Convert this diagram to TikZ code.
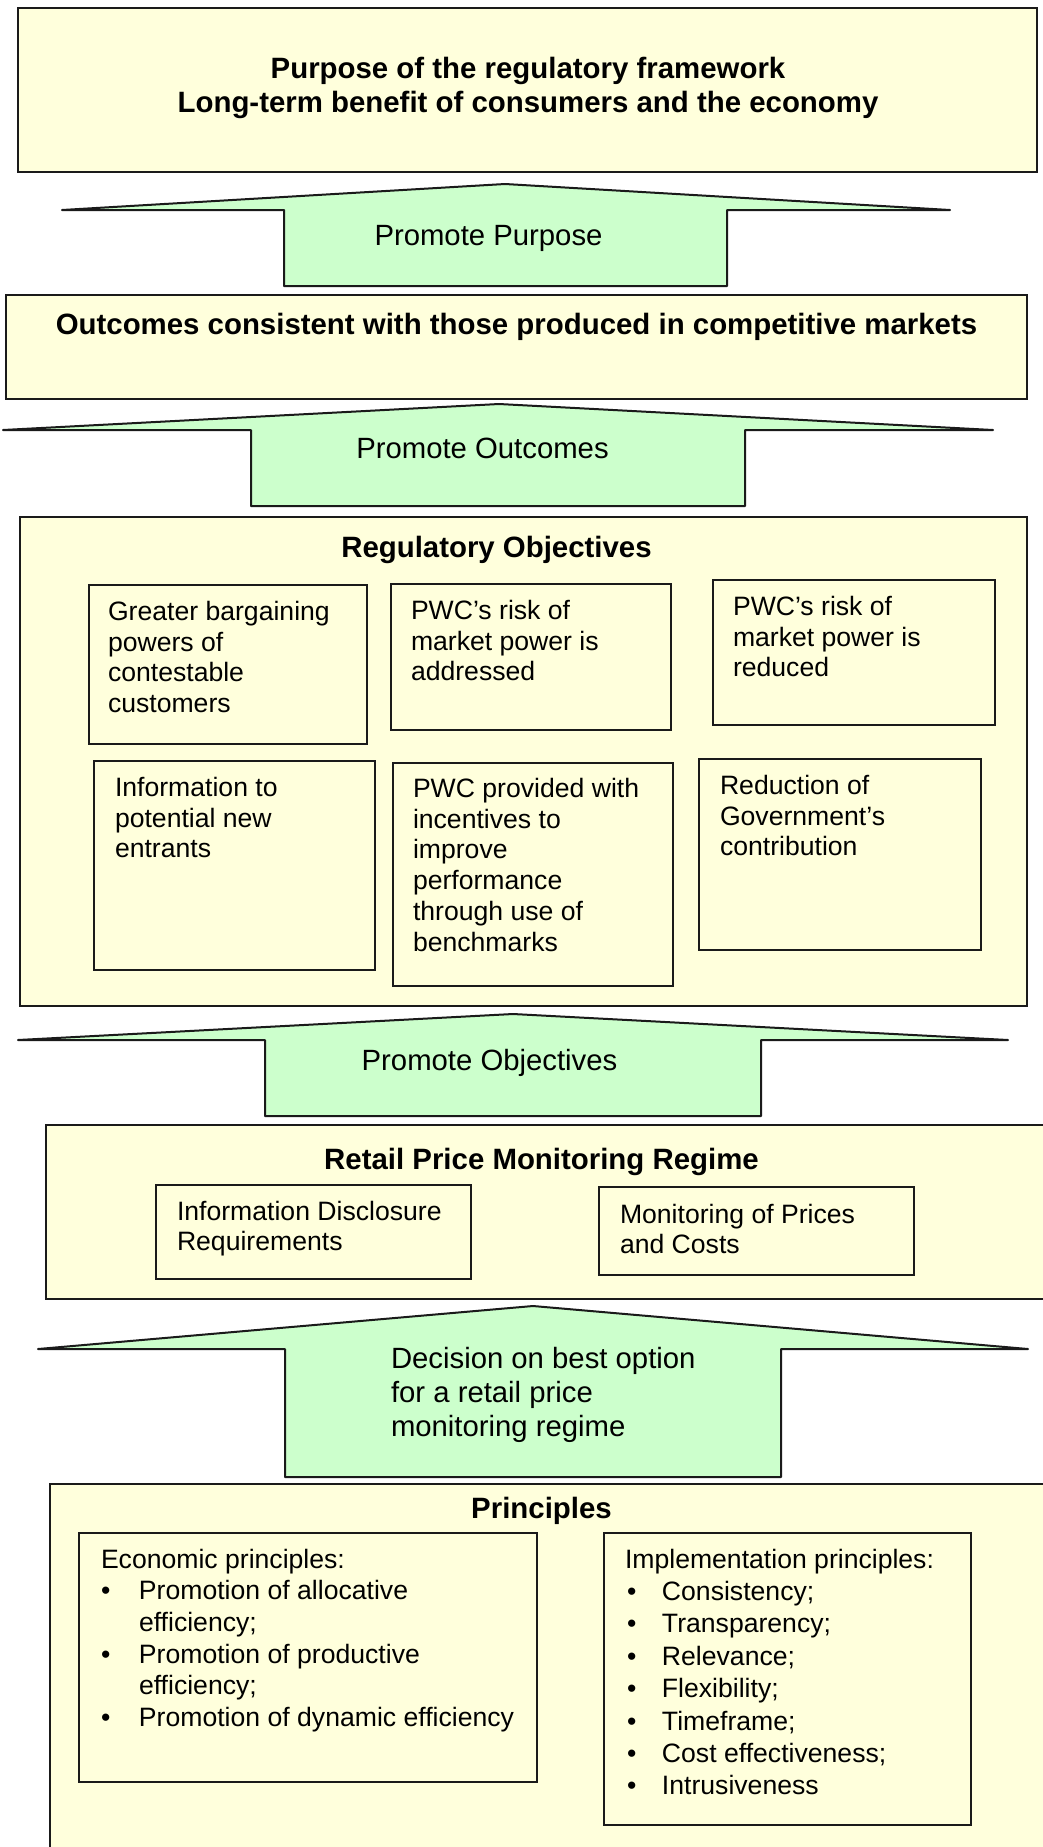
\documentclass[tikz,border=0pt]{standalone}
\usepackage{fontspec}
\setmainfont{Liberation Sans}
\definecolor{yel}{HTML}{FFFFDC}
\definecolor{grn}{HTML}{CCFFCC}
\definecolor{edge}{HTML}{1A1A1A}
\newcommand\bodyfont{\fontsize{26.6}{30.7}\selectfont}
\newcommand\titlefont{\fontsize{29.4}{34}\selectfont\bfseries}
\newcommand\arrowfont{\fontsize{29.3}{34}\selectfont}
\newcommand\llines[1]{\begin{tabular}[t]{@{}l@{}}#1\end{tabular}}
\newcommand\clines[1]{\begin{tabular}[t]{@{}c@{}}#1\end{tabular}}
\newcommand\bul[1]{\makebox[#1][l]{\textbullet}}
\tikzset{
  panel/.style={draw=edge, line width=2pt, fill=yel, anchor=north west, inner sep=0pt, outer sep=0pt},
  subbox/.style={draw=edge, line width=1.8pt, fill=yel, anchor=north west, inner sep=0pt, outer sep=0pt},
  bigarrow/.style={draw=edge, line width=2pt, fill=grn, line join=round},
  txt/.style={inner sep=0pt, outer sep=0pt, font=\bodyfont, anchor=base west},
  ttl/.style={inner sep=0pt, outer sep=0pt, font=\titlefont, anchor=base},
  atxt/.style={inner sep=0pt, outer sep=0pt, font=\arrowfont},
}
\begin{document}
\begin{tikzpicture}[x=1pt, y=-1pt]
\useasboundingbox (0,0) rectangle (1043,1847);
\clip (0,0) rectangle (1043,1847);
\fill[white] (0,0) rectangle (1043,1847);

% Purpose
\node[panel, minimum width=1019pt, minimum height=164pt] (purpose) at (18,8) {};
\node[ttl] (purposet) at (528,78.5) {\clines{Purpose of the regulatory framework\\Long-term benefit of consumers and the economy}};

% Arrow 1
\draw[bigarrow] (505,184) -- (950,210) -- (727,210) -- (727,286) -- (284,286) -- (284,210) -- (62,210) -- cycle;
\node[atxt, anchor=base] (a1) at (488.5,245.5) {Promote Purpose};

% Outcomes
\node[panel, minimum width=1021pt, minimum height=104pt] (outcomes) at (6,295) {};
\node[ttl] (outcomest) at (516.5,334.5) {Outcomes consistent with those produced in competitive markets};

% Arrow 2
\draw[bigarrow] (499,404) -- (993,430) -- (745,430) -- (745,506) -- (251,506) -- (251,430) -- (3,430) -- cycle;
\node[atxt, anchor=base] (a2) at (482.5,458.5) {Promote Outcomes};

% Regulatory objectives
\node[panel, minimum width=1007pt, minimum height=489pt] (objectives) at (20,517) {};
\node[ttl] (objectivest) at (496.5,557.5) {Regulatory Objectives};

\node[subbox, minimum width=278pt, minimum height=159pt] (oA) at (89,585) {};
\node[subbox, minimum width=280pt, minimum height=146pt] (oB) at (391,584) {};
\node[subbox, minimum width=282pt, minimum height=145pt] (oC) at (713,580) {};
\node[subbox, minimum width=281pt, minimum height=209pt] (oD) at (94,761) {};
\node[subbox, minimum width=280pt, minimum height=223pt] (oE) at (393,763) {};
\node[subbox, minimum width=282pt, minimum height=191pt] (oF) at (699,759) {};

\node[txt] (tA) at (108,620.5) {\llines{Greater bargaining\\powers of\\contestable\\customers}};
\node[txt] (tB) at (411,619.5) {\llines{PWC’s risk of\\market power is\\addressed}};
\node[txt] (tC) at (733,615.5) {\llines{PWC’s risk of\\market power is\\reduced}};
\node[txt] (tD) at (115,796.5) {\llines{Information to\\potential new\\entrants}};
\node[txt] (tE) at (413,797.5) {\llines{PWC provided with\\incentives to\\improve\\performance\\through use of\\benchmarks}};
\node[txt] (tF) at (720,794.5) {\llines{Reduction of\\Government’s\\contribution}};

% Arrow 3
\draw[bigarrow] (513,1014) -- (1008,1040) -- (761,1040) -- (761,1116) -- (265,1116) -- (265,1040) -- (18,1040) -- cycle;
\node[atxt, anchor=base] (a3) at (489.5,1070.5) {Promote Objectives};

% Retail price monitoring regime
\node[panel, minimum width=1010pt, minimum height=174pt] (regime) at (46,1125) {};
\node[ttl] (regimet) at (541.5,1169.5) {Retail Price Monitoring Regime};
\node[subbox, minimum width=315pt, minimum height=94pt] (rG) at (156,1185) {};
\node[subbox, minimum width=315pt, minimum height=88pt] (rH) at (599,1187) {};
\node[txt, font=\fontsize{26.6}{30}\selectfont] (tG) at (177,1220.5) {\llines{Information Disclosure\\Requirements}};
\node[txt, font=\fontsize{26.6}{30}\selectfont] (tH) at (620,1223.5) {\llines{Monitoring of Prices\\and Costs}};

% Arrow 4
\draw[bigarrow] (533,1306) -- (1028,1349) -- (781,1349) -- (781,1477) -- (285,1477) -- (285,1349) -- (38,1349) -- cycle;
\node[atxt, anchor=base west] (a4) at (391,1368.5) {\llines{Decision on best option\\for a retail price\\monitoring regime}};

% Principles
\node[panel, minimum width=1010pt, minimum height=380pt] (principles) at (50,1484) {};
\node[ttl] (principlest) at (541.5,1518.5) {Principles};
\node[subbox, minimum width=458pt, minimum height=249pt] (pI) at (79,1533) {};
\node[subbox, minimum width=367pt, minimum height=292pt] (pJ) at (604,1533) {};
\node[txt, font=\fontsize{26.6}{31.7}\selectfont] (tI) at (101,1568) {\llines{Economic principles:\\
\bul{38pt}Promotion of allocative\\
\hspace*{38pt}efficiency;\\
\bul{38pt}Promotion of productive\\
\hspace*{38pt}efficiency;\\
\bul{38pt}Promotion of dynamic efficiency}};
\node[txt, font=\fontsize{26.6}{32.4}\selectfont] (tJ) at (625,1568) {\llines{Implementation principles:\\
\hspace*{2pt}\bul{35pt}Consistency;\\
\hspace*{2pt}\bul{35pt}Transparency;\\
\hspace*{2pt}\bul{35pt}Relevance;\\
\hspace*{2pt}\bul{35pt}Flexibility;\\
\hspace*{2pt}\bul{35pt}Timeframe;\\
\hspace*{2pt}\bul{35pt}Cost effectiveness;\\
\hspace*{2pt}\bul{35pt}Intrusiveness}};
\end{tikzpicture}
\end{document}
